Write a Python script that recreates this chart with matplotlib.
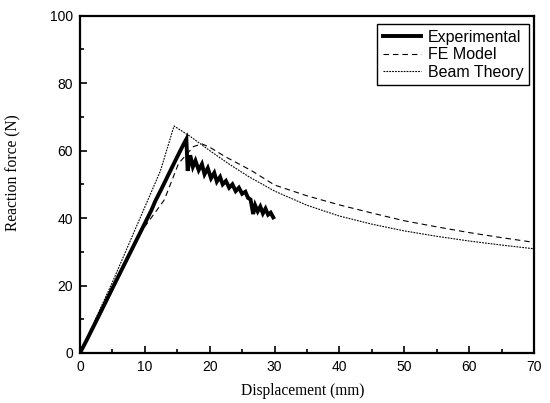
import matplotlib
matplotlib.use("Agg")
import matplotlib.pyplot as plt
from matplotlib.ticker import MultipleLocator

# Experimental curve
exp_x = [0, 1, 3, 5, 7, 9, 11, 11.6, 12.6, 14, 15, 16, 16.4,
         16.6, 17.0, 17.4, 17.8, 18.3, 18.8, 19.2, 19.7, 20.2, 20.7, 21.1, 21.6,
         22.0, 22.5, 23.0, 23.5, 24.0, 24.5, 25.0, 25.5, 25.9, 26.3, 26.7, 27.0,
         27.4, 27.8, 28.2, 28.6, 29.0, 29.4, 29.8]
exp_y = [0, 3.7, 11.4, 19.2, 26.9, 34.6, 42.3, 45.0, 48.8, 54.3, 58.2, 62.0, 63.4,
         54.0, 58.6, 55.2, 57.0, 54.2, 56.0, 53.0, 54.8, 51.8, 53.4, 50.8, 52.2,
         50.0, 51.0, 49.0, 50.0, 48.0, 49.0, 47.2, 47.8, 46.0, 45.5, 41.2, 43.8,
         42.0, 43.4, 41.4, 42.8, 41.0, 41.6, 40.2]

# FE model
fe_x = [0, 5, 9.25, 13, 15.2, 17.5, 18.8, 20, 22.4, 26.5, 30, 35, 40, 45, 50, 55, 60, 65, 70]
fe_y = [0, 18.5, 35.5, 45.4, 56.2, 61.2, 62.0, 61.0, 58.2, 54.0, 49.8, 46.6, 43.9, 41.5, 39.2, 37.4, 35.7, 34.2, 32.8]

# Beam theory
bt_x = [0, 5, 12.4, 14.5, 17, 20, 23, 26, 30, 35, 40, 45, 50, 55, 60, 65, 70]
bt_y = [0, 21.0, 54.0, 67.3, 64.2, 60.0, 56.0, 52.3, 48.0, 43.8, 40.6, 38.2, 36.2, 34.6, 33.2, 32.0, 30.9]

fig = plt.figure(figsize=(5.5, 4.03), dpi=100)
ax = fig.add_axes([80/550, (403-353)/403, 454/550, 337.3/403])

ax.plot(exp_x, exp_y, color="black", lw=2.8, solid_joinstyle="miter", label="Experimental")
ax.plot(fe_x, fe_y, color="black", lw=0.8, linestyle=(0, (5, 3.5)), label="FE Model")
ax.plot(bt_x, bt_y, color="black", lw=0.8, linestyle=(0, (1.6, 1.0)), label="Beam Theory")

ax.set_xlim(0, 70)
ax.set_ylim(0, 100)
ax.xaxis.set_major_locator(MultipleLocator(10))
ax.xaxis.set_minor_locator(MultipleLocator(5))
ax.yaxis.set_major_locator(MultipleLocator(20))
ax.yaxis.set_minor_locator(MultipleLocator(10))
ax.tick_params(which="both", direction="in", width=1.2)
ax.tick_params(which="major", length=5, labelsize=10, pad=5)
ax.tick_params(which="minor", length=3)
for lab in ax.get_xticklabels() + ax.get_yticklabels():
    lab.set_fontfamily("Liberation Sans")
for s in ax.spines.values():
    s.set_linewidth(1.6)

ax.set_xlabel("Displacement (mm)", fontfamily="Liberation Serif", fontsize=11.2)
ax.set_ylabel("Reaction force (N)", fontfamily="Liberation Serif", fontsize=11.2)
ax.xaxis.set_label_coords(0.49, -0.088)
ax.yaxis.set_label_coords(-0.128, 0.534)

leg = ax.legend(loc="upper right", bbox_to_anchor=(0.989, 0.975), borderaxespad=0,
                prop={"family": "Liberation Sans", "size": 11.5},
                handlelength=2.4, handletextpad=0.4, labelspacing=0.15,
                borderpad=0.35, fancybox=False, framealpha=1, edgecolor="black")
leg.get_frame().set_linewidth(1.0)

fig.savefig("out.png", dpi=100)
